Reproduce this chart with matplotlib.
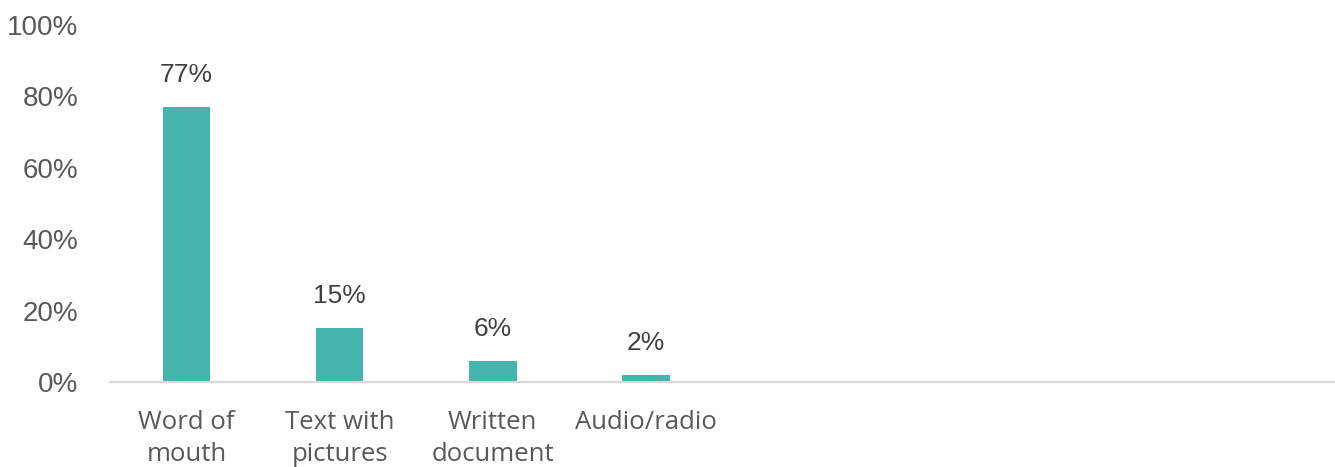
import numpy as np
import matplotlib
matplotlib.use("Agg")
import matplotlib.pyplot as plt

### Data ###
categories = ["Word of\nmouth", "Text with\npictures", "Written\ndocument", "Audio/radio",
              "", "", "", ""]
values = [77, 15, 6, 2, None, None, None, None]
yticks = [0, 20, 40, 60, 80, 100]

bar_color = "#45b5ae"

fig = plt.figure(figsize=(13.35, 4.67), dpi=100)
ax = fig.add_axes([110 / 1335, 85 / 467, 1225 / 1335, 357 / 467])

x = np.arange(len(categories))
for xi, v in zip(x, values):
    if v is None:
        continue
    ax.bar(xi, v, width=0.31, color=bar_color, zorder=2)
    ax.annotate(f"{v}%", (xi, v), xytext=(0, 18), textcoords="offset points",
                ha="center", va="baseline", fontsize=19,
                color="#404040", family="Liberation Sans")

ax.set_xlim(-0.5, len(categories) - 0.5)
ax.set_ylim(0, 100)
ax.set_yticks(yticks)
ax.set_yticklabels([f"{t}%" for t in yticks], fontsize=20, color="#595959",
                   family="Liberation Sans")
ax.set_xticks(x)
ax.set_xticklabels(categories, fontsize=18.5, color="#595959", family="Open Sans",
                   linespacing=1.4)

for s in ["top", "right", "left"]:
    ax.spines[s].set_visible(False)
ax.spines["bottom"].set_color("#d9d9d9")
ax.spines["bottom"].set_linewidth(1.5)
ax.tick_params(axis="both", length=0)
ax.tick_params(axis="x", pad=20)
ax.tick_params(axis="y", pad=23)

fig.savefig("out.png", dpi=100)
